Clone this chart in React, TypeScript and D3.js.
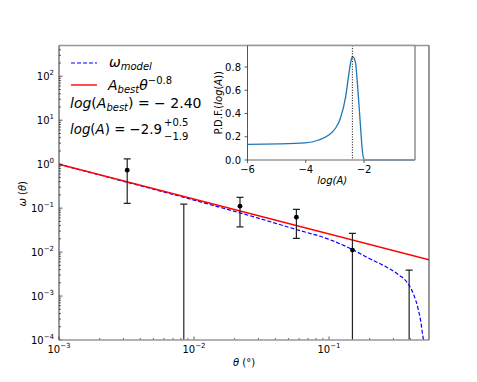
import * as d3 from "d3";

// observed points with error bars
const thetaObs = [0.0032, 0.0084, 0.0219, 0.0573, 0.149, 0.392];
const omegaObs: (number | null)[] = [0.73, null, 0.111, 0.0624, 0.0111, null];
const omegaHi = [1.32, 0.123, 0.175, 0.0933, 0.0266, 0.0039];
const omegaLo = [0.128, 1e-7, 0.0376, 0.0205, 1e-7, 1e-7];

// omega_model (blue dashed)
const modelTheta = [0.001, 0.00316, 0.01, 0.0158, 0.0316, 0.0562, 0.1, 0.146, 0.197, 0.262, 0.329, 0.383, 0.425, 0.456, 0.478, 0.494, 0.501];
const modelOmega = [0.993, 0.392, 0.152, 0.103, 0.0564, 0.0331, 0.0195, 0.0118, 0.00724, 0.00468, 0.00302, 0.00195, 0.00105, 0.000525, 0.000263, 0.000129, 0.0001];

// A_best theta^-0.8 (red)
const powTheta = [0.001, 0.55];
const powOmega = [1.0, 0.0067];

// inset: PDF of log(A)
const pdfX = [-6, -4.94, -4.02, -3.56, -3.21, -2.98, -2.81, -2.63, -2.5, -2.45, -2.4, -2.34, -2.29, -2.21, -2.12, -2.06, -2.0, -1.95, -0.25];
const pdfY = [0.135, 0.138, 0.147, 0.172, 0.215, 0.273, 0.359, 0.546, 0.776, 0.85, 0.89, 0.875, 0.833, 0.603, 0.287, 0.086, 0.006, 0, 0];
const logABest = -2.4;

const xTickExp = [-3, -2, -1];
const yTickExp = [-4, -3, -2, -1, 0, 1, 2];
const insetXTicks = [-6, -4, -2];
const insetYTicks = [0, 0.2, 0.4, 0.6, 0.8];

const W = 477;
const H = 382;
const m = { left: 59, right: 429, top: 45.5, bottom: 340 };
const ins = { left: 247.5, right: 415, top: 45.5, bottom: 160 };
const FONT = "DejaVu Sans, sans-serif";

const minus = (s: string) => s.replace("-", "\u2212");

export default function App() {
  const x = d3.scaleLog().domain([1e-3, 0.55]).range([m.left, m.right]);
  const y = d3.scaleLog().domain([1e-4, Math.pow(10, 2.7)]).range([m.bottom, m.top]);

  const xi = d3.scaleLinear().domain([-6, -0.25]).range([ins.left, ins.right]);
  const yi = d3.scaleLinear().domain([0, 0.985]).range([ins.bottom, ins.top]);

  const logLine = d3
    .line<[number, number]>()
    .x((d) => x(d[0]))
    .y((d) => y(d[1]))
    .curve(d3.curveMonotoneX);

  const modelPath = logLine(modelTheta.map((t, i) => [t, modelOmega[i]]));
  const powPath = logLine(powTheta.map((t, i) => [t, powOmega[i]]));

  const pdfPath = d3
    .line<[number, number]>()
    .x((d) => xi(d[0]))
    .y((d) => yi(d[1]))
    .curve(d3.curveMonotoneX)(pdfX.map((v, i) => [v, pdfY[i]]));

  const xMinor = x.ticks().filter((t) => Math.abs(Math.log10(t) - Math.round(Math.log10(t))) > 1e-6);
  const yMinor = y.ticks().filter((t) => Math.abs(Math.log10(t) - Math.round(Math.log10(t))) > 1e-6);

  return (
    <svg width={W} height={H} style={{ position: "absolute", left: 0, top: 0, background: "#fff" }} fontFamily={FONT}>
      <defs>
        <clipPath id="plot">
          <rect x={m.left} y={m.top} width={m.right - m.left} height={m.bottom - m.top} />
        </clipPath>
      </defs>

      {/* main data */}
      <g clipPath="url(#plot)">
        <path d={modelPath || ""} fill="none" stroke="#0000ff" strokeWidth={1.2} strokeDasharray="4,2" />
        <path d={powPath || ""} fill="none" stroke="#ff0000" strokeWidth={1.4} />
        {thetaObs.map((t, i) => {
          const cx = x(t);
          const y1 = y(omegaHi[i]);
          const y2 = y(omegaLo[i]);
          return (
            <g key={i} stroke="#222" strokeWidth={1.2}>
              <line x1={cx} x2={cx} y1={y1} y2={y2} />
              <line x1={cx - 3.5} x2={cx + 3.5} y1={y1} y2={y1} />
              <line x1={cx - 3.5} x2={cx + 3.5} y1={y2} y2={y2} />
              {omegaObs[i] != null && <circle cx={cx} cy={y(omegaObs[i] as number)} r={2.4} fill="#000" stroke="none" />}
            </g>
          );
        })}
      </g>

      {/* main ticks (inward) */}
      <g stroke="#333" strokeWidth={0.8}>
        {xTickExp.map((e) => (
          <line key={e} x1={x(Math.pow(10, e))} x2={x(Math.pow(10, e))} y1={m.bottom} y2={m.bottom - 3.5} />
        ))}
        {xMinor.map((t, i) => (
          <line key={"xm" + i} x1={x(t)} x2={x(t)} y1={m.bottom} y2={m.bottom - 2} />
        ))}
        {yTickExp.map((e) => (
          <line key={e} x1={m.left} x2={m.left + 3.5} y1={y(Math.pow(10, e))} y2={y(Math.pow(10, e))} />
        ))}
        {yMinor.map((t, i) => (
          <line key={"ym" + i} x1={m.left} x2={m.left + 2} y1={y(t)} y2={y(t)} />
        ))}
      </g>

      {/* main spines */}
      <line x1={m.left} x2={m.right} y1={m.top} y2={m.top} stroke="#999" strokeWidth={1.6} />
      <line x1={m.left} x2={m.right} y1={m.bottom} y2={m.bottom} stroke="#999" strokeWidth={1.6} />
      <line x1={m.left} x2={m.left} y1={m.top} y2={m.bottom} stroke="#333" strokeWidth={1} />
      <line x1={m.right} x2={m.right} y1={m.top} y2={m.bottom} stroke="#333" strokeWidth={1} />

      {/* main tick labels */}
      <g fontSize={10} fill="#000">
        {xTickExp.map((e) => (
          <text key={e} x={x(Math.pow(10, e))} y={353} textAnchor="middle">
            10<tspan dy={-5} fontSize={7}>{minus(String(e))}</tspan>
          </text>
        ))}
        {yTickExp.map((e) => (
          <text key={e} x={54} y={y(Math.pow(10, e)) + 4} textAnchor="end">
            10<tspan dy={-5} fontSize={7}>{e < 0 ? minus(String(e)) : String(e)}</tspan>
          </text>
        ))}
      </g>

      {/* axis labels */}
      <text x={(m.left + m.right) / 2} y={366} fontSize={10} textAnchor="middle">
        <tspan fontStyle="italic">θ</tspan> (°)
      </text>
      <text transform={`translate(26,${(m.top + m.bottom) / 2 + 1}) rotate(-90)`} fontSize={10} textAnchor="middle">
        <tspan fontStyle="italic">ω</tspan> (<tspan fontStyle="italic">θ</tspan>)
      </text>

      {/* legend */}
      <line x1={71} x2={97} y1={63} y2={63} stroke="#0000ff" strokeWidth={1.2} strokeDasharray="4,2" />
      <text x={109} y={67} fontSize={14} fontStyle="italic">
        ω<tspan dy={3} fontSize={10}>model</tspan>
      </text>
      <line x1={71} x2={97} y1={85} y2={85} stroke="#ff0000" strokeWidth={1.4} />
      <text x={108} y={90} fontSize={14}>
        <tspan fontStyle="italic">A</tspan>
        <tspan dy={3} fontSize={10} fontStyle="italic">best</tspan>
        <tspan dy={-3} fontStyle="italic">θ</tspan>
        <tspan dy={-6} fontSize={10}>−0.8</tspan>
      </text>
      <text x={70} y={108} fontSize={14}>
        <tspan fontStyle="italic">log</tspan>(<tspan fontStyle="italic">A</tspan>
        <tspan dy={3} fontSize={10} fontStyle="italic">best</tspan>
        <tspan dy={-3}>) = − 2.40</tspan>
      </text>
      <text x={70} y={134} fontSize={14} textLength={92} lengthAdjust="spacingAndGlyphs">
        <tspan fontStyle="italic">log</tspan>(<tspan fontStyle="italic">A</tspan>) = −2.9
      </text>
      <text x={164} y={126} fontSize={10}>+0.5</text>
      <text x={164} y={140} fontSize={10}>−1.9</text>

      {/* inset */}
      <rect x={ins.left} y={ins.top} width={ins.right - ins.left} height={ins.bottom - ins.top} fill="#fff" />
      <path d={pdfPath || ""} fill="none" stroke="#1f77b4" strokeWidth={1.3} />
      <line x1={xi(logABest)} x2={xi(logABest)} y1={ins.top} y2={ins.bottom} stroke="#000" strokeWidth={1} strokeDasharray="1,1.6" />
      <line x1={ins.left} x2={ins.right} y1={ins.top} y2={ins.top} stroke="#999" strokeWidth={1.6} />
      <line x1={ins.left} x2={ins.right} y1={ins.bottom} y2={ins.bottom} stroke="#999" strokeWidth={1.6} />
      <line x1={ins.left} x2={ins.left} y1={ins.top} y2={ins.bottom} stroke="#555" strokeWidth={1} />
      <line x1={ins.right} x2={ins.right} y1={ins.top} y2={ins.bottom} stroke="#888" strokeWidth={1.4} />
      <g stroke="#333" strokeWidth={0.8}>
        {insetXTicks.map((t) => (
          <line key={t} x1={xi(t)} x2={xi(t)} y1={ins.bottom} y2={ins.bottom + 3} />
        ))}
        {insetYTicks.map((t) => (
          <line key={t} x1={ins.left} x2={ins.left - 3} y1={yi(t)} y2={yi(t)} />
        ))}
      </g>
      <g fontSize={10} fill="#000">
        {insetXTicks.map((t) => (
          <text key={t} x={xi(t)} y={173} textAnchor="middle">{minus(String(t))}</text>
        ))}
        {insetYTicks.map((t) => (
          <text key={t} x={241} y={yi(t) + 3.5} textAnchor="end">{t.toFixed(1)}</text>
        ))}
      </g>
      <text x={(xi(-6) + xi(-0.25)) / 2 + 1} y={184} fontSize={10} fontStyle="italic" textAnchor="middle">
        log(A)
      </text>
      <text transform={`translate(222,${(ins.top + ins.bottom) / 2}) rotate(-90)`} fontSize={10} textAnchor="middle">
        P.D.F.(<tspan fontStyle="italic">log</tspan>(<tspan fontStyle="italic">A</tspan>))
      </text>
    </svg>
  );
}
